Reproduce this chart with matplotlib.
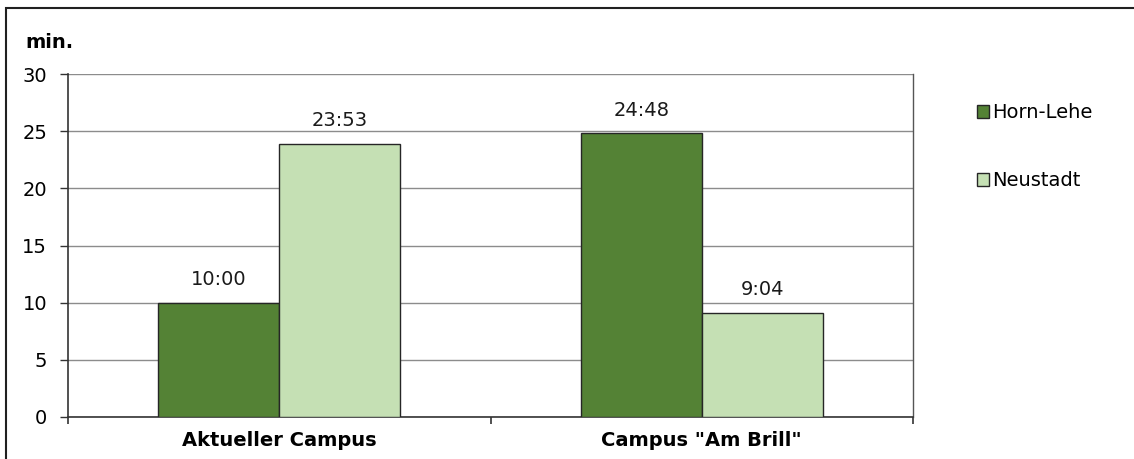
import numpy as np
import matplotlib
matplotlib.use("Agg")
import matplotlib.pyplot as plt
from matplotlib.patches import Rectangle

plt.rcParams['font.family'] = ['DejaVu Sans']

categories = ['Aktueller Campus', 'Campus "Am Brill"']
series_names = ['Horn-Lehe', 'Neustadt']
horn_lehe = [10.0, 24.8]        # 10:00, 24:48
neustadt = [23 + 53/60, 9 + 4/60]  # 23:53, 9:04
horn_labels = ['10:00', '24:48']
neu_labels = ['23:53', '9:04']
colors = ['#548235', '#c5e0b4']

fig = plt.figure(figsize=(11.34, 4.59), dpi=100)
W, H = 1134, 459
ax = fig.add_axes([68/W, 1 - 417/H, (913-68)/W, (417-74)/H])

# outer chart border (only top and left visible)
fig.patches.append(Rectangle((6/W, -0.1), 1.2, 1 - 8/H + 0.1, transform=fig.transFigure,
                             fill=False, edgecolor='#202020', linewidth=1.5))

x = np.arange(len(categories))
bw = 121/422.5
b1 = ax.bar(x - bw/2, horn_lehe, bw, color=colors[0], edgecolor='#262626', linewidth=1, zorder=3,
            label=series_names[0])
b2 = ax.bar(x + bw/2, neustadt, bw, color=colors[1], edgecolor='#262626', linewidth=1, zorder=3,
            label=series_names[1])

for bars, labs in ((b1, horn_labels), (b2, neu_labels)):
    for r, t in zip(bars, labs):
        ax.annotate(t, (r.get_x() + r.get_width()/2, r.get_height()), xytext=(0, 10),
                    textcoords='offset points', ha='center', va='bottom', fontsize=14, color='#1a1a1a')

ax.set_xlim(-0.5, 1.5)
ax.set_ylim(0, 30)
ax.set_yticks(range(0, 31, 5))
ax.yaxis.grid(True, color='#8c8c8c', linewidth=1, zorder=0)
ax.set_axisbelow(True)

ax.set_xticks([-0.5, 0.5, 1.5])
ax.set_xticklabels([])
ax.set_xticks(x, minor=True)
ax.set_xticklabels(categories, minor=True, fontsize=14, fontweight='bold')
ax.tick_params(axis='x', which='minor', length=0, pad=10)
ax.tick_params(axis='x', which='major', length=5, width=1.2, color='#333333', direction='out')
ax.tick_params(axis='y', length=6, width=1, color='#333333', labelsize=14, pad=9)

for s in ('left', 'bottom'):
    ax.spines[s].set_color('#333333')
    ax.spines[s].set_linewidth(1.2)
ax.spines['right'].set_color('#555555')
ax.spines['right'].set_linewidth(1)
ax.spines['top'].set_visible(False)

fig.text(25/W, 1 - 42/H, 'min.', fontsize=14, fontweight='bold', va='center', ha='left')

leg = fig.legend(handles=[b1, b2], labels=series_names, loc='upper left',
                 bbox_to_anchor=(959/W, 1 - 86/H), frameon=False, fontsize=14,
                 handlelength=0.65, handleheight=0.65, handletextpad=0.15, labelspacing=2.5)

fig.savefig('out.png', dpi=100)
